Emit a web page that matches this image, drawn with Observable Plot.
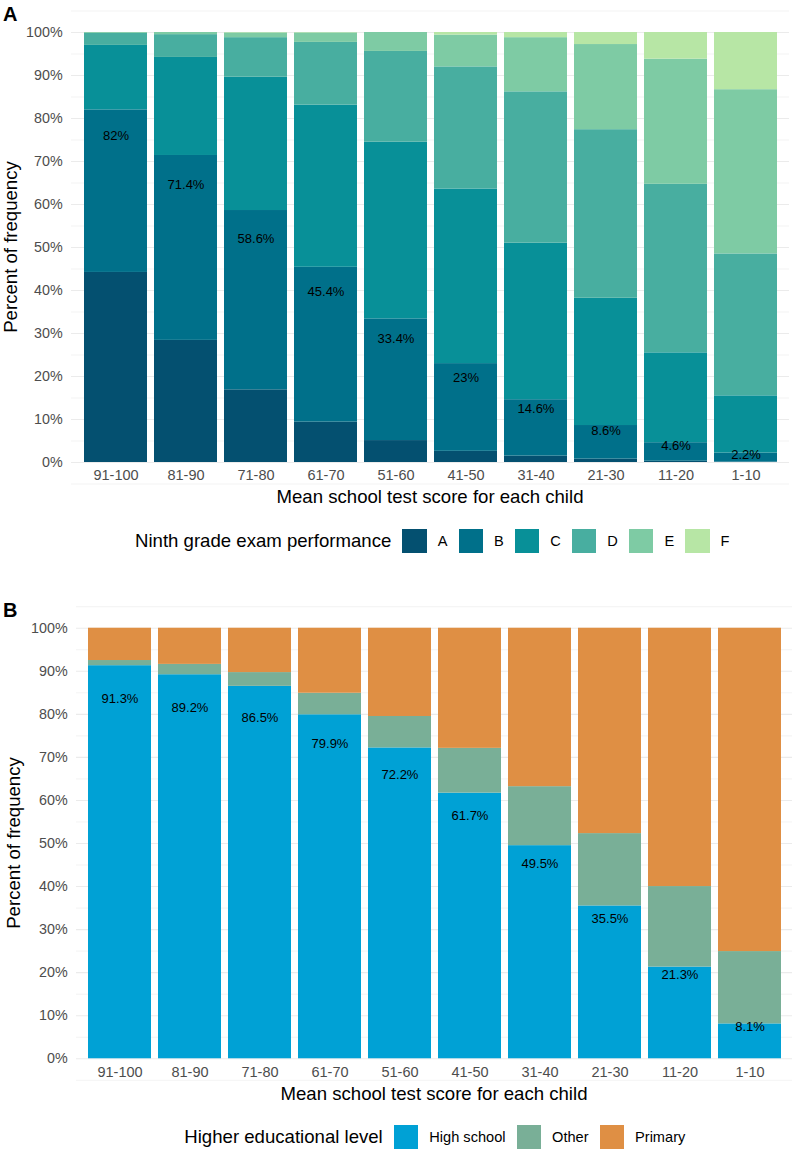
<!DOCTYPE html>
<html>
<head>
<meta charset="utf-8">
<script src="https://cdn.jsdelivr.net/npm/d3@7"></script>
<script src="https://cdn.jsdelivr.net/npm/@observablehq/plot@0.6"></script>
<style>
  body { margin: 0; background: #fff; }
  #c { position: relative; width: 796px; height: 1153px; overflow: hidden; font-family: 'Liberation Sans', Arial, Helvetica, sans-serif; }
  #c svg { position: absolute; left: 0; }
  .legend { position: absolute; display: flex; align-items: center; height: 25px; color: #000; white-space: nowrap; }
  .legend .ttl { font-size: 18.6px; margin-right: 11px; }
  .legend .sw { width: 24.5px; height: 24.5px; margin-right: 11px; flex: none; }
  .legend .lb { font-size: 14.6px; margin-right: 11px; }
</style>
</head>
<body>
<div id="c"></div>
<script>
// ---------- data ----------
const scores = ["91-100", "81-90", "71-80", "61-70", "51-60", "41-50", "31-40", "21-30", "11-20", "1-10"];
const yTicks = [0, 10, 20, 30, 40, 50, 60, 70, 80, 90, 100];

// Panel A: ninth grade exam performance (percent per score group)
const grades = ["A", "B", "C", "D", "E", "F"];
const gradeA = [44.2, 28.4, 16.9, 9.4, 5.1, 2.6, 1.5, 0.8, 0.3, 0.1];
const gradeB = [37.8, 43.0, 41.7, 36.0, 28.3, 20.4, 13.1, 7.8, 4.3, 2.1];
const gradeC = [15.0, 22.8, 31.0, 37.7, 41.1, 40.6, 36.4, 29.6, 20.9, 13.3];
const gradeD = [2.8, 5.3, 9.2, 14.6, 21.1, 28.4, 35.2, 39.2, 39.2, 33.0];
const gradeE = [0.2, 0.5, 1.1, 2.2, 4.4, 7.4, 12.6, 19.8, 29.1, 38.2];
const gradeF = [0.0, 0.0, 0.1, 0.1, 0.0, 0.6, 1.2, 2.8, 6.2, 13.3];
const abLabels = [82, 71.4, 58.6, 45.4, 33.4, 23, 14.6, 8.6, 4.6, 2.2];
const gradeColors = ["#045070", "#00708A", "#089098", "#48AEA0", "#7ECBA4", "#B7E6A5"];

// Panel B: higher educational level
const levels = ["High school", "Other", "Primary"];
const highSchool = [91.3, 89.2, 86.5, 79.9, 72.2, 61.7, 49.5, 35.5, 21.3, 8.1];
const other = [1.2, 2.4, 3.2, 5.0, 7.3, 10.4, 13.7, 16.8, 18.7, 16.8];
const primary = [7.5, 8.4, 10.3, 15.1, 20.5, 27.9, 36.8, 47.7, 60.0, 75.1];
const levelColors = ["#00A1D5", "#79AF97", "#DF8F44"];

// ---------- build tables ----------
const gradeSeries = [gradeA, gradeB, gradeC, gradeD, gradeE, gradeF];
const dataA = [];
grades.forEach((g, gi) => scores.forEach((s, si) => dataA.push({score: s, group: g, value: gradeSeries[gi][si]})));
const labelsA = scores.map((s, i) => ({score: s, y: gradeA[i] + 0.84 * gradeB[i], text: abLabels[i] + "%"}));

const levelSeries = [highSchool, other, primary];
const dataB = [];
levels.forEach((l, li) => scores.forEach((s, si) => dataB.push({score: s, group: l, value: levelSeries[li][si]})));
const labelsB = scores.map((s, i) => ({score: s, y: highSchool[i] * 0.915, text: highSchool[i] + "%"}));

const minorTicks = [-5].concat(yTicks.map(d => d + 5));
const FONT = "'Liberation Sans', Arial, Helvetica, sans-serif";
const c = document.getElementById("c");

function panel(o) {
  const svg = Plot.plot({
    width: 796,
    height: o.height,
    marginLeft: o.ml,
    marginRight: o.mr,
    marginTop: o.mt,
    marginBottom: o.mb,
    style: {fontFamily: FONT, color: "#4D4D4D", background: "transparent", overflow: "visible"},
    x: {type: "band", domain: scores, paddingInner: 0.1, paddingOuter: 0.15, label: null},
    y: {domain: [-5, 105], label: null},
    color: {domain: o.domain, range: o.colors},
    marks: [
      Plot.gridY(minorTicks, {stroke: "#EBEBEB", strokeOpacity: 1, strokeWidth: 0.6}),
      Plot.gridY(yTicks, {stroke: "#EBEBEB", strokeOpacity: 1, strokeWidth: 1.1}),
      Plot.barY(o.data, {x: "score", y: "value", fill: "group", inset: 0}),
      Plot.text(o.labels, {x: "score", y: "y", text: "text", fill: "black", fontSize: 13}),
      Plot.axisX({tickSize: 0, tickPadding: 0, dy: o.xdy, fontSize: 14.5, label: null}),
      Plot.axisY(yTicks, {tickSize: 0, tickPadding: 8.8, tickFormat: d => d + "%", fontSize: 14.3, label: null})
    ]
  });
  svg.style.top = o.top + "px";
  const s = d3.select(svg);
  // panel tag
  s.append("text").attr("x", 3).attr("y", o.tagY).attr("font-size", 20).attr("font-weight", "bold")
    .attr("text-anchor", "start").attr("fill", "#000").attr("font-family", FONT).text(o.tag);
  // y title
  s.append("text").attr("transform", `translate(${o.ytX},${o.ytY}) rotate(-90)`).attr("text-anchor", "middle")
    .attr("font-size", 18.6).attr("fill", "#000").attr("font-family", FONT).text("Percent of frequency");
  // x title
  s.append("text").attr("x", o.xtX).attr("y", o.xtY).attr("text-anchor", "middle")
    .attr("font-size", 18.6).attr("fill", "#000").attr("font-family", FONT).text("Mean school test score for each child");
  c.appendChild(svg);

  const lg = document.createElement("div");
  lg.className = "legend";
  lg.style.left = o.lgX + "px";
  lg.style.top = (o.lgY - 12.5) + "px";
  let html = `<span class="ttl">${o.legendTitle}</span>`;
  o.domain.forEach((d, i) => {
    html += `<span class="sw" style="background:${o.colors[i]}"></span><span class="lb">${d}</span>`;
  });
  lg.innerHTML = html;
  c.appendChild(lg);
}

panel({
  top: 0, height: 590, ml: 71, mr: 7, mt: 10.5, mb: 106.5, xdy: -14,
  data: dataA, labels: labelsA, domain: grades, colors: gradeColors,
  tag: "A", tagY: 20.7, ytX: 16.7, ytY: 247, xtX: 430, xtY: 503.3,
  legendTitle: "Ninth grade exam performance", lgX: 135, lgY: 541
});

panel({
  top: 590, height: 563, ml: 76, mr: 4, mt: 16.2, mb: 73.2, xdy: -13.3,
  data: dataB, labels: labelsB, domain: levels, colors: levelColors,
  tag: "B", tagY: 26.7, ytX: 19.5, ytY: 253, xtX: 434, xtY: 510,
  legendTitle: "Higher educational level", lgX: 184.3, lgY: 1137
});
</script>
</body>
</html>
